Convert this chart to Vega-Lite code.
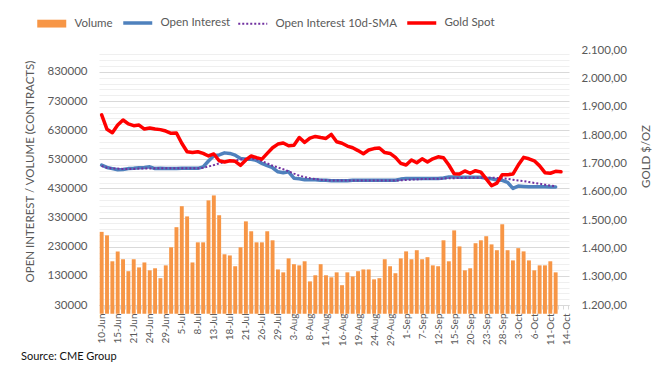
{
  "$schema": "https://vega.github.io/schema/vega-lite/v6.json",
  "width": 470,
  "height": 255,
  "autosize": {"type": "none"},
  "padding": {"left": 99, "top": 50, "right": 100, "bottom": 74},
  "background": "white",
  "config": {"view": {"stroke": null}, "font": "Lato"},
  "title": {"text": "Source: CME Group", "orient": "bottom", "anchor": "start", "frame": "bounds", "fontSize": 11, "font": "Lato", "fontWeight": "normal", "color": "#111111", "offset": 5, "dx": -3},
  "data": {"values": [
    {"d":"10-Jun","v":281000,"oi":510000,"sma":507000,"g":1871},
    {"d":"13-Jun","v":269000,"oi":502000,"sma":501000,"g":1820},
    {"d":"14-Jun","v":180000,"oi":498000,"sma":499000,"g":1808},
    {"d":"15-Jun","v":214000,"oi":494000,"sma":498000,"g":1835},
    {"d":"16-Jun","v":187000,"oi":495000,"sma":497000,"g":1853},
    {"d":"17-Jun","v":146000,"oi":498000,"sma":497000,"g":1839},
    {"d":"21-Jun","v":187000,"oi":499000,"sma":497000,"g":1833},
    {"d":"22-Jun","v":159000,"oi":501000,"sma":498000,"g":1835},
    {"d":"23-Jun","v":176000,"oi":502000,"sma":498000,"g":1821},
    {"d":"24-Jun","v":149000,"oi":504000,"sma":498000,"g":1825},
    {"d":"27-Jun","v":156000,"oi":498000,"sma":499000,"g":1821},
    {"d":"28-Jun","v":122000,"oi":499000,"sma":499000,"g":1819},
    {"d":"29-Jun","v":166000,"oi":498000,"sma":499000,"g":1814},
    {"d":"30-Jun","v":228000,"oi":498000,"sma":499000,"g":1806},
    {"d":"1-Jul","v":297000,"oi":498000,"sma":499000,"g":1807},
    {"d":"5-Jul","v":369000,"oi":499000,"sma":499000,"g":1771},
    {"d":"6-Jul","v":334000,"oi":499000,"sma":499000,"g":1741},
    {"d":"7-Jul","v":176000,"oi":499000,"sma":499000,"g":1738},
    {"d":"8-Jul","v":245000,"oi":499000,"sma":499000,"g":1741},
    {"d":"11-Jul","v":245000,"oi":504000,"sma":501000,"g":1735},
    {"d":"12-Jul","v":389000,"oi":524000,"sma":505000,"g":1726},
    {"d":"13-Jul","v":406000,"oi":542000,"sma":510000,"g":1733},
    {"d":"14-Jul","v":338000,"oi":545000,"sma":516000,"g":1709},
    {"d":"15-Jul","v":204000,"oi":552000,"sma":520000,"g":1705},
    {"d":"18-Jul","v":200000,"oi":550000,"sma":524000,"g":1709},
    {"d":"19-Jul","v":163000,"oi":544000,"sma":526000,"g":1707},
    {"d":"20-Jul","v":228000,"oi":533000,"sma":529000,"g":1693},
    {"d":"21-Jul","v":317000,"oi":530000,"sma":532000,"g":1712},
    {"d":"22-Jul","v":283000,"oi":530000,"sma":532000,"g":1726},
    {"d":"25-Jul","v":245000,"oi":526000,"sma":530000,"g":1720},
    {"d":"26-Jul","v":245000,"oi":516000,"sma":524000,"g":1715},
    {"d":"27-Jul","v":283000,"oi":508000,"sma":516000,"g":1735},
    {"d":"28-Jul","v":252000,"oi":501000,"sma":508000,"g":1755},
    {"d":"29-Jul","v":152000,"oi":487000,"sma":502000,"g":1768},
    {"d":"1-Aug","v":142000,"oi":484000,"sma":496000,"g":1772},
    {"d":"2-Aug","v":190000,"oi":487000,"sma":489000,"g":1762},
    {"d":"3-Aug","v":170000,"oi":465000,"sma":481000,"g":1764},
    {"d":"4-Aug","v":166000,"oi":463000,"sma":474000,"g":1791},
    {"d":"5-Aug","v":180000,"oi":460000,"sma":469000,"g":1774},
    {"d":"8-Aug","v":111000,"oi":460000,"sma":465000,"g":1789},
    {"d":"9-Aug","v":132000,"oi":460000,"sma":462000,"g":1795},
    {"d":"10-Aug","v":170000,"oi":458000,"sma":460000,"g":1791},
    {"d":"11-Aug","v":132000,"oi":458000,"sma":458000,"g":1788},
    {"d":"12-Aug","v":125000,"oi":456000,"sma":457000,"g":1802},
    {"d":"15-Aug","v":142000,"oi":456000,"sma":457000,"g":1776},
    {"d":"16-Aug","v":98000,"oi":456000,"sma":457000,"g":1771},
    {"d":"17-Aug","v":142000,"oi":456000,"sma":457000,"g":1761},
    {"d":"18-Aug","v":128000,"oi":458000,"sma":457000,"g":1755},
    {"d":"19-Aug","v":146000,"oi":458000,"sma":457000,"g":1745},
    {"d":"22-Aug","v":152000,"oi":458000,"sma":457000,"g":1734},
    {"d":"23-Aug","v":152000,"oi":458000,"sma":457000,"g":1747},
    {"d":"24-Aug","v":118000,"oi":458000,"sma":457000,"g":1752},
    {"d":"25-Aug","v":122000,"oi":458000,"sma":457000,"g":1754},
    {"d":"26-Aug","v":187000,"oi":458000,"sma":457000,"g":1738},
    {"d":"29-Aug","v":163000,"oi":458000,"sma":457000,"g":1735},
    {"d":"30-Aug","v":139000,"oi":458000,"sma":457000,"g":1721},
    {"d":"31-Aug","v":190000,"oi":462000,"sma":458000,"g":1700},
    {"d":"1-Sep","v":214000,"oi":464000,"sma":459000,"g":1694},
    {"d":"2-Sep","v":187000,"oi":464000,"sma":460000,"g":1712},
    {"d":"6-Sep","v":218000,"oi":464000,"sma":461000,"g":1702},
    {"d":"7-Sep","v":187000,"oi":464000,"sma":462000,"g":1716},
    {"d":"8-Sep","v":194000,"oi":464000,"sma":462000,"g":1705},
    {"d":"9-Sep","v":166000,"oi":464000,"sma":463000,"g":1716},
    {"d":"12-Sep","v":163000,"oi":464000,"sma":463000,"g":1723},
    {"d":"13-Sep","v":252000,"oi":466000,"sma":464000,"g":1720},
    {"d":"14-Sep","v":180000,"oi":469000,"sma":465000,"g":1694},
    {"d":"15-Sep","v":286000,"oi":469000,"sma":465000,"g":1663},
    {"d":"16-Sep","v":231000,"oi":468000,"sma":466000,"g":1662},
    {"d":"19-Sep","v":149000,"oi":468000,"sma":466000,"g":1673},
    {"d":"20-Sep","v":156000,"oi":468000,"sma":467000,"g":1665},
    {"d":"21-Sep","v":242000,"oi":468000,"sma":467000,"g":1674},
    {"d":"22-Sep","v":252000,"oi":468000,"sma":467000,"g":1669},
    {"d":"23-Sep","v":266000,"oi":465000,"sma":467000,"g":1645},
    {"d":"26-Sep","v":238000,"oi":463000,"sma":467000,"g":1621},
    {"d":"27-Sep","v":218000,"oi":459000,"sma":466000,"g":1630},
    {"d":"28-Sep","v":307000,"oi":458000,"sma":465000,"g":1660},
    {"d":"29-Sep","v":218000,"oi":451000,"sma":463000,"g":1660},
    {"d":"30-Sep","v":183000,"oi":430000,"sma":460000,"g":1662},
    {"d":"3-Oct","v":225000,"oi":438000,"sma":457000,"g":1694},
    {"d":"4-Oct","v":214000,"oi":437000,"sma":455000,"g":1721},
    {"d":"5-Oct","v":183000,"oi":436000,"sma":452000,"g":1716},
    {"d":"6-Oct","v":149000,"oi":436000,"sma":449000,"g":1709},
    {"d":"7-Oct","v":166000,"oi":436000,"sma":446000,"g":1691},
    {"d":"10-Oct","v":166000,"oi":436000,"sma":443000,"g":1667},
    {"d":"11-Oct","v":180000,"oi":435000,"sma":440000,"g":1665},
    {"d":"12-Oct","v":142000,"oi":435000,"sma":438000,"g":1672},
    {"d":"13-Oct","g":1670},
    {"d":"14-Oct"}
  ]},
  "encoding": {
    "x": {
      "field": "d", "type": "nominal", "sort": null,
      "scale": {"type": "band", "paddingInner": 0.27, "paddingOuter": 0.135},
      "axis": {
        "title": null, "labelAngle": -90, "labelFontSize": 10, "labelColor": "#595959", "labelFont": "Lato",
        "labelPadding": 4, "labelOverlap": false, "labelBound": false,
        "tickBand": "extent", "tickSize": 4, "tickColor": "#d9d9d9", "domainColor": "#d9d9d9", "grid": false,
        "labelExpr": "indexof(['10-Jun','15-Jun','21-Jun','24-Jun','29-Jun','5-Jul','8-Jul','13-Jul','18-Jul','21-Jul','26-Jul','29-Jul','3-Aug','8-Aug','11-Aug','16-Aug','19-Aug','24-Aug','29-Aug','1-Sep','7-Sep','12-Sep','15-Sep','20-Sep','23-Sep','28-Sep','3-Oct','6-Oct','11-Oct','14-Oct'], datum.value) >= 0 ? datum.value : ''"
      }
    }
  },
  "layer": [
    {
      "layer": [
        {
          "mark": {"type": "bar"},
          "encoding": {
            "y": {"field": "v", "type": "quantitative",
              "scale": {"domain": [30000, 905000], "nice": false, "zero": false},
              "axis": {"values": [30000,130000,230000,330000,430000,530000,630000,730000,830000], "format": "d",
                "grid": true, "gridColor": "#d9d9d9", "domain": false, "ticks": false,
                "labelFontSize": 11.5, "labelColor": "#595959", "labelPadding": 12, "labelFont": "Lato",
                "title": "OPEN INTEREST / VOLUME (CONTRACTS)", "titleFontSize": 11.5, "titleColor": "#595959",
                "titleFontWeight": "normal", "titleFont": "Lato", "titleX": -69, "titleY": 121, "titleAngle": 270,
                "titleAlign": "center", "titleBaseline": "middle"}},
            "color": {"datum": "Volume", "type": "nominal",
              "scale": {"domain": ["Volume", "Open Interest", "Open Interest 10d-SMA", "Gold Spot"],
                        "range": ["#F79646", "#4F81BD", "#7030A0", "#FF0000"]},
              "legend": {"orient": "none", "legendX": -53, "legendY": -33, "direction": "horizontal",
                "title": null, "labelFontSize": 11.5, "labelColor": "#595959", "labelFont": "Lato",
                "symbolType": "stroke", "symbolSize": 841, "symbolStrokeWidth": 3.5,
                "labelOffset": 17, "columnPadding": 3,
                "encode": {"symbols": {"update": {
                  "shape": {"signal": "datum.value === 'Volume' ? 'M-1,-0.27H1V0.27H-1Z' : 'stroke'"},
                  "fill": {"signal": "datum.value === 'Volume' ? '#F79646' : 'transparent'"},
                  "strokeWidth": {"signal": "datum.value === 'Volume' ? 0 : (datum.value === 'Open Interest 10d-SMA' ? 2 : 3.5)"},
                  "strokeDash": {"signal": "datum.value === 'Open Interest 10d-SMA' ? [2, 2] : [1, 0]"}
                }}}}
            }
          }
        },
        {
          "mark": {"type": "line", "strokeWidth": 3.5, "strokeJoin": "round", "strokeCap": "round"},
          "encoding": {
            "y": {"field": "oi", "type": "quantitative",
              "scale": {"domain": [30000, 905000], "nice": false, "zero": false},
              "axis": {"values": [50000,70000,90000,110000,150000,170000,190000,210000,250000,270000,290000,310000,350000,370000,390000,410000,450000,470000,490000,510000,550000,570000,590000,610000,650000,670000,690000,710000,750000,770000,790000,810000,850000,870000,890000],
                "grid": true, "gridColor": "#efefef", "labels": false, "ticks": false, "domain": false, "title": null}},
            "color": {"datum": "Open Interest", "type": "nominal"}
          }
        },
        {
          "mark": {"type": "line", "strokeWidth": 2, "strokeDash": [2, 2], "strokeCap": "butt"},
          "encoding": {
            "y": {"field": "sma", "type": "quantitative", "axis": null},
            "color": {"datum": "Open Interest 10d-SMA", "type": "nominal"}
          }
        }
      ],
      "resolve": {"axis": {"y": "independent"}}
    },
    {
      "mark": {"type": "line", "strokeWidth": 3.5, "strokeJoin": "round", "strokeCap": "round"},
      "encoding": {
        "y": {"field": "g", "type": "quantitative",
          "scale": {"domain": [1200, 2100], "nice": false, "zero": false},
          "axis": {"orient": "right", "values": [1200,1300,1400,1500,1600,1700,1800,1900,2000,2100],
            "grid": false, "domain": false, "ticks": false,
            "labelExpr": "replace(replace(replace(format(datum.value, ',.2f'), ',', '_'), '.', ','), '_', '.')",
            "labelFontSize": 11.5, "labelColor": "#595959", "labelPadding": 12, "labelFont": "Lato",
            "title": "GOLD $/OZ", "titleFontSize": 11.5, "titleColor": "#595959", "titleFontWeight": "normal",
            "titleFont": "Lato", "titleAngle": 270, "titleX": 77, "titleY": 106, "titleAlign": "center", "titleBaseline": "middle"}},
        "color": {"datum": "Gold Spot", "type": "nominal"}
      }
    }
  ],
  "resolve": {"scale": {"y": "independent"}}
}
